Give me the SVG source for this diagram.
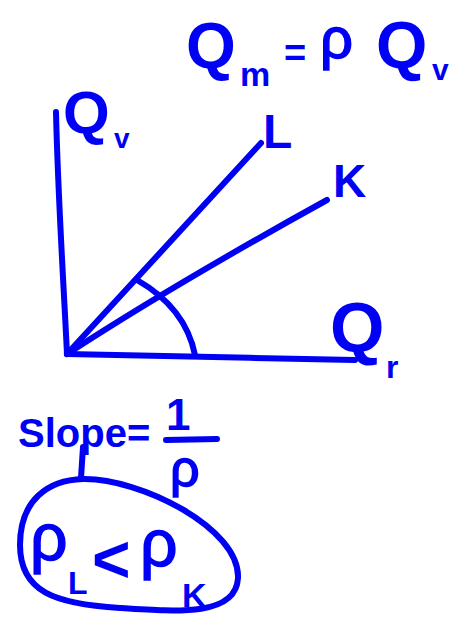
<svg xmlns="http://www.w3.org/2000/svg" width="463" height="625" viewBox="0 0 463 625">
<style>
.s{fill:none;stroke:#0000f5;stroke-width:6;stroke-linecap:round;stroke-linejoin:round}
.t{fill:#0000f5;font-family:"Liberation Sans","DejaVu Sans",sans-serif;font-weight:bold}
.r{fill:#0000f5;font-family:"Liberation Sans","DejaVu Sans",sans-serif;font-weight:normal;stroke:#0000f5;stroke-width:1.5}
</style>
<rect width="463" height="625" fill="#fff"/>
<g id="equation">
<text class="t" x="186" y="68" font-size="64">Q</text>
<text class="t" x="240" y="86" font-size="34">m</text>
<text class="t" x="284" y="66" font-size="38">=</text>
<text class="r" x="320" y="58" font-size="58">ρ</text>
<text class="t" x="376" y="68" font-size="66">Q</text>
<text class="t" x="432" y="80" font-size="30">v</text>
</g>
<g id="axes">
<path class="s" d="M56 112 C 58 200, 64 290, 67 354"/>
<path class="s" d="M67 354 C 150 356, 260 358, 355 360"/>
</g>
<g id="connectors">
<path id="line-L" class="s" d="M67 354 L 261 143"/>
<path id="line-K" class="s" d="M67 354 C 150 300, 240 248, 327 200"/>
<path id="angle-arc" class="s" d="M137 280 C 165 296, 188 320, 195 355"/>
<path id="tie" class="s" d="M83 447 L 81 478"/>
</g>
<g id="label-Qv">
<text class="t" x="63" y="133" font-size="60">Q</text>
<text class="t" x="114" y="148" font-size="28">v</text>
</g>
<g id="label-L"><text class="t" x="263" y="148" font-size="48">L</text></g>
<g id="label-K"><text class="t" x="333" y="197" font-size="46">K</text></g>
<g id="label-Qr">
<text class="t" x="330" y="352" font-size="70">Q</text>
<text class="t" x="386" y="378" font-size="32">r</text>
</g>
<g id="slope">
<text class="t" x="18" y="447" font-size="40">Slope=</text>
<text class="t" x="166" y="430" font-size="44">1</text>
<path class="s" d="M166 440 L 217 439"/>
<text class="r" x="170" y="486" font-size="52">ρ</text>
</g>
<g id="comparison">
<path class="s" d="M83 479 C 140 478, 240 528, 238 578 C 236 616, 180 612, 120 608 C 55 604, 20 592, 20 545 C 20 500, 48 480, 83 479 Z"/>
<text class="r" x="30" y="560" font-size="66">ρ</text>
<text class="t" x="68" y="594" font-size="32">L</text>
<text class="t" x="92" y="582" font-size="66">&lt;</text>
<text class="r" x="140" y="566" font-size="66">ρ</text>
<text class="t" x="182" y="607" font-size="34">K</text>
</g>
</svg>
